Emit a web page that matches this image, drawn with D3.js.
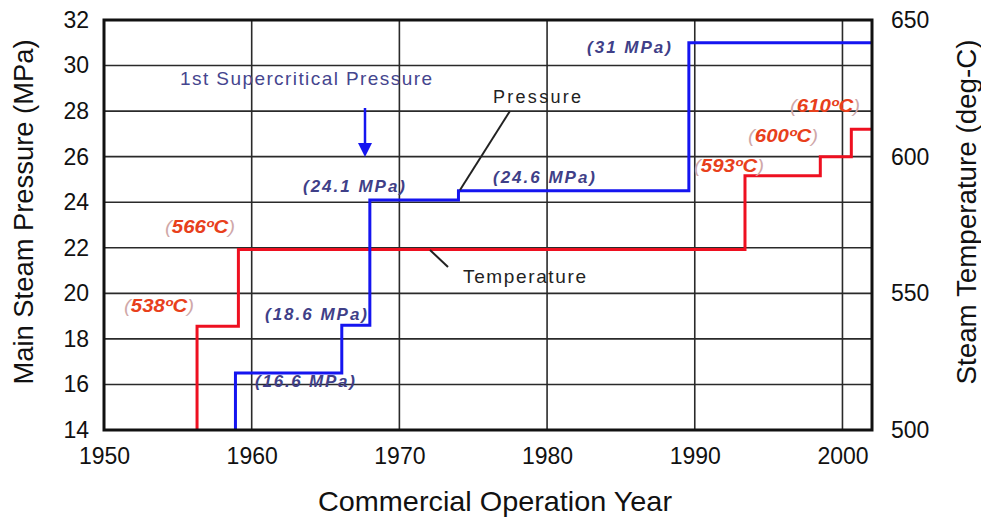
<!DOCTYPE html>
<html>
<head>
<meta charset="utf-8">
<script src="https://cdn.jsdelivr.net/npm/d3@7"></script>
<style>
  body { margin: 0; background: #fff; }
  svg text { font-family: Arial, "Liberation Sans", sans-serif; }
</style>
</head>
<body>
<svg id="chart" width="981" height="519"></svg>
<script>
// ---- data ----
const yearTicks = [1950, 1960, 1970, 1980, 1990, 2000];
const pressureTicks = [14, 16, 18, 20, 22, 24, 26, 28, 30, 32];
const temperatureTicks = [500, 550, 600, 650];

const pressureYears = [1958.9, 1966.1, 1968.0, 1974.0, 1989.6];
const pressureValues = [16.5, 18.6, 24.1, 24.5, 31.0];
const pressureLabels = ["(16.6 MPa)", "(18.6 MPa)", "(24.1 MPa)", "(24.6 MPa)", "(31 MPa)"];

const temperatureYears = [1956.3, 1959.1, 1993.4, 1998.5, 2000.6];
const temperatureValues = [538, 566, 593, 600, 610];
const temperatureLabels = ["538ºC", "566ºC", "593ºC", "600ºC", "610ºC"];

// ---- layout ----
const svg = d3.select("#chart");
const L = 104, R = 872, T = 20, B = 430;
const x = d3.scaleLinear().domain([1950, 2002]).range([L, R]);
const yP = d3.scaleLinear().domain([14, 32]).range([B, T]);
const yT = d3.scaleLinear().domain([500, 650]).range([B, T]);

// grid
const grid = svg.append("g");
grid.selectAll("line.h").data(pressureTicks.slice(1, -1)).join("line")
  .attr("x1", L).attr("x2", R).attr("y1", d => yP(d)).attr("y2", d => yP(d))
  .attr("stroke", "#2a2a2a").attr("stroke-width", 1.6);
grid.selectAll("line.v").data(yearTicks.slice(1)).join("line")
  .attr("y1", T).attr("y2", B).attr("x1", d => x(d)).attr("x2", d => x(d))
  .attr("stroke", "#2a2a2a").attr("stroke-width", 1.6);

// axes
const axL = svg.append("g").attr("transform", `translate(${L},0)`)
  .call(d3.axisLeft(yP).tickValues(pressureTicks).tickSize(0).tickPadding(15));
const axR = svg.append("g").attr("transform", `translate(${R},0)`)
  .call(d3.axisRight(yT).tickValues(temperatureTicks).tickSize(0).tickPadding(19));
const axB = svg.append("g").attr("transform", `translate(0,${B})`)
  .call(d3.axisBottom(x).tickValues(yearTicks).tickFormat(d3.format("d")).tickSize(0).tickPadding(18));
[axL, axR, axB].forEach(a => {
  a.select(".domain").remove();
  a.selectAll("text").attr("font-size", 23).attr("fill", "#111")
    .style("font-family", "Arial, 'Liberation Sans', sans-serif");
});

// axis titles
svg.append("text").attr("transform", `translate(33,${212}) rotate(-90)`)
  .attr("text-anchor", "middle").attr("font-size", 27).attr("fill", "#111")
  .attr("textLength", 345).attr("lengthAdjust", "spacingAndGlyphs")
  .text("Main Steam Pressure (MPa)");
svg.append("text").attr("transform", `translate(976,${212}) rotate(-90)`)
  .attr("text-anchor", "middle").attr("font-size", 27).attr("fill", "#111")
  .attr("textLength", 345).attr("lengthAdjust", "spacingAndGlyphs")
  .text("Steam Temperature (deg-C)");
svg.append("text").attr("x", 495).attr("y", 511)
  .attr("text-anchor", "middle").attr("font-size", 28).attr("fill", "#111")
  .attr("textLength", 354).attr("lengthAdjust", "spacingAndGlyphs")
  .text("Commercial Operation Year");

// series lines
function stepPoints(years, values, base) {
  const pts = [[years[0], base]];
  years.forEach((yr, i) => pts.push([yr, values[i]]));
  pts.push([2002, values[values.length - 1]]);
  return pts;
}
const lineP = d3.line().x(d => x(d[0])).y(d => yP(d[1])).curve(d3.curveStepAfter);
const lineT = d3.line().x(d => x(d[0])).y(d => yT(d[1])).curve(d3.curveStepAfter);

svg.append("path").attr("d", lineT(stepPoints(temperatureYears, temperatureValues, 500)))
  .attr("fill", "none").attr("stroke", "#ee1020").attr("stroke-width", 3);
svg.append("path").attr("d", lineP(stepPoints(pressureYears, pressureValues, 14)))
  .attr("fill", "none").attr("stroke", "#1515f0").attr("stroke-width", 3);

// plot border
svg.append("rect").attr("x", L).attr("y", T).attr("width", R - L).attr("height", B - T)
  .attr("fill", "none").attr("stroke", "#111").attr("stroke-width", 3);

// value labels
const pLabelPos = [[305, 387], [316, 320], [354, 192], [544, 183], [629, 53]];
const pWidths = [100, 102, 102, 102, 84];
pressureLabels.forEach((t, i) => {
  svg.append("text").attr("x", pLabelPos[i][0]).attr("y", pLabelPos[i][1])
    .attr("text-anchor", "middle").attr("font-size", 17).attr("font-style", "italic")
    .attr("font-weight", "bold").attr("fill", "#3f3f88")
    .attr("textLength", pWidths[i]).attr("lengthAdjust", "spacing")
    .text(t);
});
const tLabelPos = [[159, 312], [200, 233], [729, 172], [783, 142], [825, 112]];
temperatureLabels.forEach((t, i) => {
  const g = svg.append("text").attr("x", tLabelPos[i][0]).attr("y", tLabelPos[i][1])
    .attr("text-anchor", "middle").attr("font-size", 18).attr("font-style", "italic")
    .attr("font-weight", "bold")
    .attr("textLength", 70).attr("lengthAdjust", "spacingAndGlyphs");
  g.append("tspan").attr("fill", "#d0a8a8").attr("font-weight", "normal").text("(");
  g.append("tspan").attr("fill", "#e8401c").text(t);
  g.append("tspan").attr("fill", "#d0a8a8").attr("font-weight", "normal").text(")");
});

// annotations
svg.append("text").attr("x", 180).attr("y", 85).attr("font-size", 19)
  .attr("fill", "#45458e").attr("textLength", 252).attr("lengthAdjust", "spacing")
  .text("1st Supercritical Pressure");
svg.append("line").attr("x1", 365).attr("x2", 365).attr("y1", 108).attr("y2", 145)
  .attr("stroke", "#1515f0").attr("stroke-width", 2.5);
svg.append("path").attr("d", "M358,143 L372,143 L365,157 Z").attr("fill", "#1515f0");

svg.append("text").attr("x", 493).attr("y", 103).attr("font-size", 18)
  .attr("fill", "#222").attr("textLength", 88).attr("lengthAdjust", "spacing")
  .text("Pressure");
svg.append("line").attr("x1", 510).attr("y1", 111).attr("x2", 460).attr("y2", 190)
  .attr("stroke", "#222").attr("stroke-width", 2);

svg.append("text").attr("x", 463).attr("y", 283).attr("font-size", 19)
  .attr("fill", "#222").attr("textLength", 123).attr("lengthAdjust", "spacing")
  .text("Temperature");
svg.append("line").attr("x1", 430).attr("y1", 250).attr("x2", 448).attr("y2", 267)
  .attr("stroke", "#222").attr("stroke-width", 2);
</script>
</body>
</html>
